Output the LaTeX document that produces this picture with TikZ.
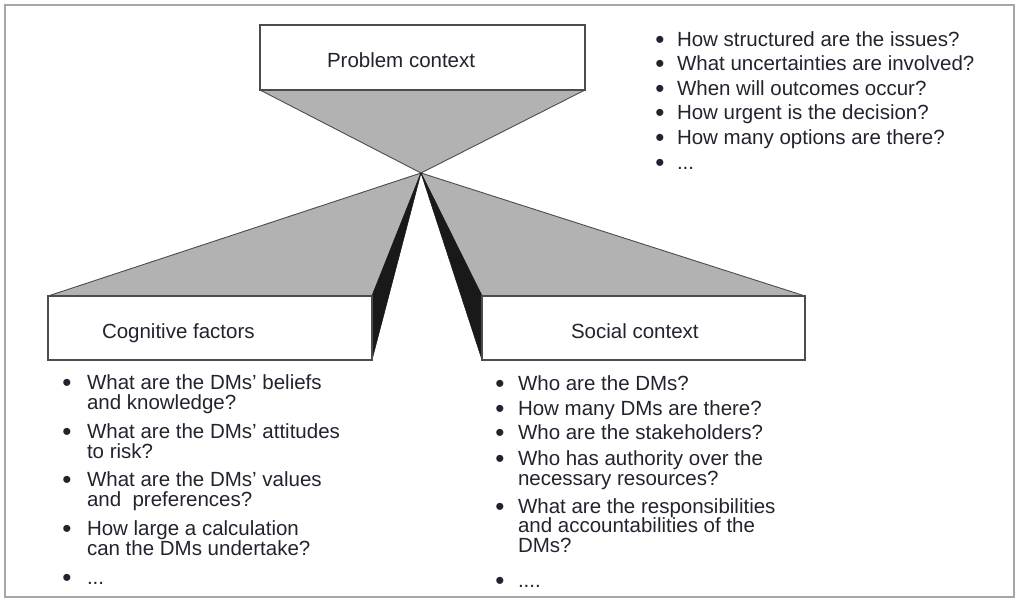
\documentclass[tikz,border=0pt]{standalone}
\usepackage{fontspec}
\setmainfont{Liberation Sans}
\pgfdeclarelayer{background}
\pgfsetlayers{background,main}
\definecolor{txtc}{RGB}{35,35,48}
\begin{document}
\begin{tikzpicture}[x=1pt,y=-1pt,
  box/.style={draw=black!70, line width=1.5pt, fill=white, rectangle, inner sep=0pt, outer sep=0pt},
  tx/.style={anchor=base west, inner sep=0pt, outer sep=0pt, font=\fontsize{20.5}{24}\selectfont, text=txtc},
  bul/.style={anchor=base, inner sep=0pt, outer sep=0pt, yshift=-2pt, font=\fontsize{26}{28}\selectfont, text=txtc},
  face/.style={fill=gray!60, draw=black!70, line width=0.9pt, line join=round},
  side/.style={fill=black!90, draw=black!90, line width=0.5pt, line join=round},
  frame/.style={draw=gray!70, line width=2pt}]
\useasboundingbox (0,0) rectangle (1020,600);
\draw[frame] (5,5) rectangle (1014,597);

\coordinate (apex) at (421,173);
\node[box, minimum width=325pt, minimum height=65pt] (pc) at (422.5,57.5) {};
\node[box, minimum width=324pt, minimum height=64pt] (cf) at (210,328) {};
\node[box, minimum width=323pt, minimum height=64pt] (sc) at (643.5,328) {};

\begin{pgfonlayer}{background}
\filldraw[face] (pc.south west) -- (pc.south east) -- (apex) -- cycle;
\filldraw[face] (apex) -- (cf.north west) -- (cf.north east) -- cycle;
\filldraw[face] (apex) -- (sc.north west) -- (sc.north east) -- cycle;
\filldraw[side] (apex) -- (cf.north east) -- (cf.south east) -- cycle;
\filldraw[side] (apex) -- (sc.north west) -- (sc.south west) -- cycle;
\end{pgfonlayer}

\node[tx] (pct) at (327,67) {Problem context};
\node[tx] (cft) at (102,338) {Cognitive factors};
\node[tx] (sct) at (571,338) {Social context};

% top list
\node[bul] (tb1) at (660,46) {•};
\node[tx] (tl1) at (677,46) {How structured are the issues?};
\node[bul] (tb2) at (660,70.6) {•};
\node[tx] (tl2) at (677,70.6) {What uncertainties are involved?};
\node[bul] (tb3) at (660,95.2) {•};
\node[tx] (tl3) at (677,95.2) {When will outcomes occur?};
\node[bul] (tb4) at (660,119.8) {•};
\node[tx] (tl4) at (677,119.8) {How urgent is the decision?};
\node[bul] (tb5) at (660,144.4) {•};
\node[tx] (tl5) at (677,144.4) {How many options are there?};
\node[bul] (tb6) at (660,169) {•};
\node[tx] (tl6) at (677,169) {...};

% left list
\node[bul] (lb1) at (67,389) {•};
\node[tx] (ll1a) at (87,389) {What are the DMs’ beliefs};
\node[tx] (ll1b) at (87,409) {and knowledge?};
\node[bul] (lb2) at (67,438) {•};
\node[tx] (ll2a) at (87,438) {What are the DMs’ attitudes};
\node[tx] (ll2b) at (87,458) {to risk?};
\node[bul] (lb3) at (67,486) {•};
\node[tx] (ll3a) at (87,486) {What are the DMs’ values};
\node[tx] (ll3b) at (87,506) {and\ \ preferences?};
\node[bul] (lb4) at (67,535) {•};
\node[tx] (ll4a) at (87,535) {How large a calculation};
\node[tx] (ll4b) at (87,555) {can the DMs undertake?};
\node[bul] (lb5) at (67,584) {•};
\node[tx] (ll5) at (87,584) {...};

% right list
\node[bul] (rb1) at (500,390) {•};
\node[tx] (rl1) at (518,390) {Who are the DMs?};
\node[bul] (rb2) at (500,415) {•};
\node[tx] (rl2) at (518,415) {How many DMs are there?};
\node[bul] (rb3) at (500,439) {•};
\node[tx] (rl3) at (518,439) {Who are the stakeholders?};
\node[bul] (rb4) at (500,465) {•};
\node[tx] (rl4a) at (518,465) {Who has authority over the};
\node[tx] (rl4b) at (518,485) {necessary resources?};
\node[bul] (rb5) at (500,513) {•};
\node[tx] (rl5a) at (518,513) {What are the responsibilities};
\node[tx] (rl5b) at (518,532) {and accountabilities of the};
\node[tx] (rl5c) at (518,552) {DMs?};
\node[bul] (rb6) at (500,587) {•};
\node[tx] (rl6) at (518,587) {....};
\end{tikzpicture}
\end{document}
